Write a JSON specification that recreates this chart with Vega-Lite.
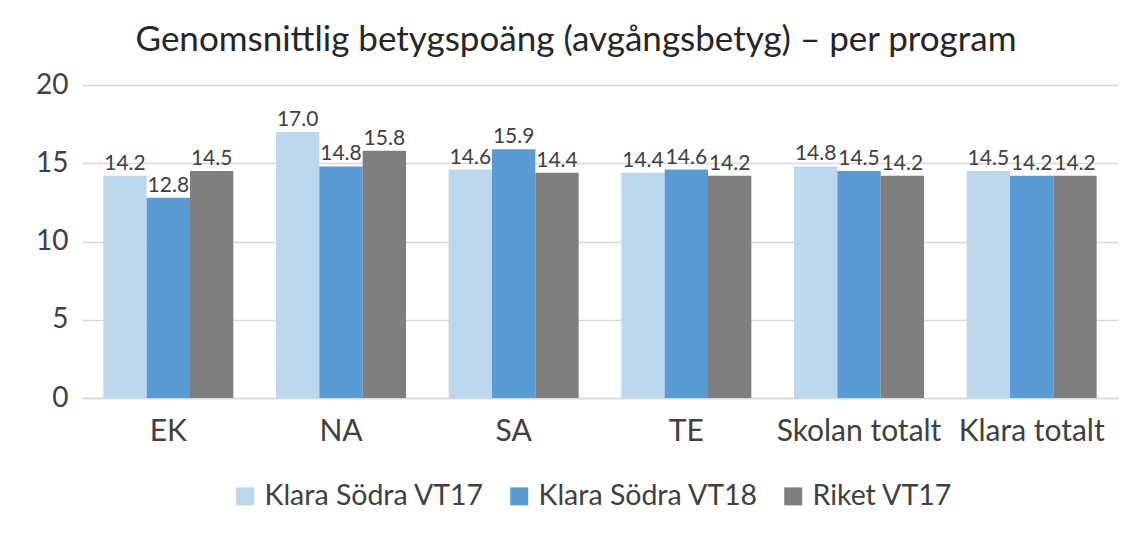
{
  "$schema": "https://vega.github.io/schema/vega-lite/v6.json",
  "autosize": "none",
  "width": 1036,
  "height": 313,
  "padding": {"left": 82, "top": 85, "right": 13, "bottom": 137},
  "background": "white",
  "config": {
    "font": "Lato",
    "view": {"stroke": null},
    "axis": {"labelColor": "#404040", "labelFont": "Lato"},
    "legend": {"labelFont": "Lato"}
  },
  "title": {
    "text": "Genomsnittlig betygspoäng (avgångsbetyg) – per program",
    "fontSize": 35,
    "fontWeight": "normal",
    "color": "#262626",
    "offset": 13,
    "dx": -24,
    "anchor": "middle"
  },
  "data": {
    "values": [
      {"program": "EK", "serie": "Klara Södra VT17", "varde": 14.2},
      {"program": "EK", "serie": "Klara Södra VT18", "varde": 12.8},
      {"program": "EK", "serie": "Riket VT17", "varde": 14.5},
      {"program": "NA", "serie": "Klara Södra VT17", "varde": 17.0},
      {"program": "NA", "serie": "Klara Södra VT18", "varde": 14.8},
      {"program": "NA", "serie": "Riket VT17", "varde": 15.8},
      {"program": "SA", "serie": "Klara Södra VT17", "varde": 14.6},
      {"program": "SA", "serie": "Klara Södra VT18", "varde": 15.9},
      {"program": "SA", "serie": "Riket VT17", "varde": 14.4},
      {"program": "TE", "serie": "Klara Södra VT17", "varde": 14.4},
      {"program": "TE", "serie": "Klara Södra VT18", "varde": 14.6},
      {"program": "TE", "serie": "Riket VT17", "varde": 14.2},
      {"program": "Skolan totalt", "serie": "Klara Södra VT17", "varde": 14.8},
      {"program": "Skolan totalt", "serie": "Klara Södra VT18", "varde": 14.5},
      {"program": "Skolan totalt", "serie": "Riket VT17", "varde": 14.2},
      {"program": "Klara totalt", "serie": "Klara Södra VT17", "varde": 14.5},
      {"program": "Klara totalt", "serie": "Klara Södra VT18", "varde": 14.2},
      {"program": "Klara totalt", "serie": "Riket VT17", "varde": 14.2}
    ]
  },
  "encoding": {
    "x": {
      "field": "program",
      "type": "nominal",
      "sort": null,
      "title": null,
      "scale": {"paddingInner": 0.247, "paddingOuter": 0.1235},
      "axis": {
        "labelAngle": 0,
        "labelFontSize": 30,
        "labelPadding": 18,
        "labelLimit": 300,
        "ticks": false,
        "domainColor": "#D9D9D9",
        "domainWidth": 1.5,
        "grid": false
      }
    },
    "xOffset": {"field": "serie", "type": "nominal", "sort": null, "scale": {"paddingInner": 0}},
    "y": {
      "field": "varde",
      "type": "quantitative",
      "title": null,
      "scale": {"domain": [0, 20]},
      "axis": {
        "values": [0, 5, 10, 15, 20],
        "labelFontSize": 28,
        "labelPadding": 14,
        "ticks": false,
        "domain": false,
        "gridColor": "#D9D9D9",
        "gridWidth": 1.5
      }
    }
  },
  "layer": [
    {
      "mark": {"type": "bar"},
      "encoding": {
        "color": {
          "field": "serie",
          "type": "nominal",
          "sort": null,
          "scale": {
            "domain": ["Klara Södra VT17", "Klara Södra VT18", "Riket VT17"],
            "range": ["#BDD7EE", "#5B9BD5", "#7F7F7F"]
          },
          "legend": {
            "title": null,
            "orient": "none",
            "legendX": 149,
            "legendY": 397,
            "direction": "horizontal",
            "symbolType": "square",
            "symbolSize": 324,
            "symbolStrokeWidth": 0,
            "labelFontSize": 28.5,
            "labelLimit": 400,
            "labelColor": "#404040",
            "columnPadding": 20,
            "labelOffset": 5
          }
        }
      }
    },
    {
      "mark": {"type": "text", "baseline": "alphabetic", "dy": -6, "fontSize": 21, "color": "#404040"},
      "encoding": {
        "text": {"field": "varde", "type": "quantitative", "format": ".1f"}
      }
    }
  ]
}
